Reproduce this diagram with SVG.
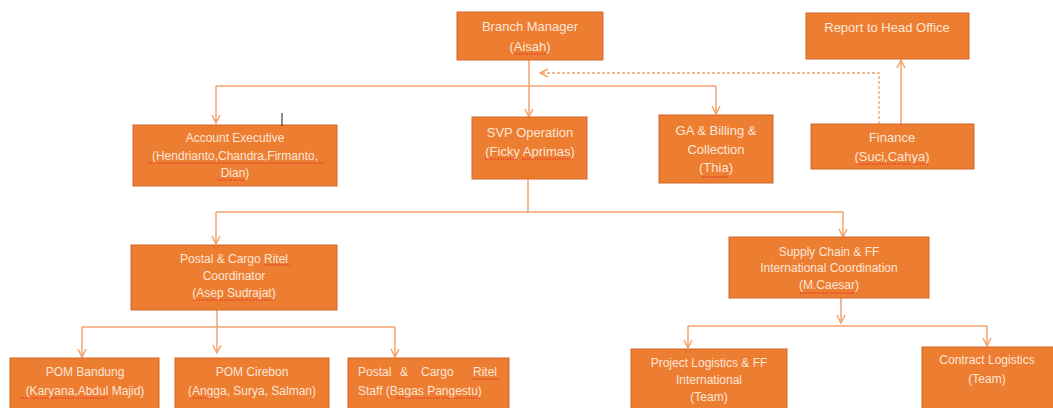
<svg xmlns="http://www.w3.org/2000/svg" width="1053" height="408" viewBox="0 0 1053 408">
<defs>
<marker id="arr" viewBox="0 0 10 10" refX="9" refY="5" markerWidth="10" markerHeight="10" markerUnits="userSpaceOnUse" orient="auto">
<path d="M1,1 L9,5 L1,9" fill="none" stroke="#F2A36E" stroke-width="1.5"/>
</marker>
</defs>
<style>
.box{fill:#ED7D31;stroke:#D0682A;stroke-width:1}
.t{font-family:"Liberation Sans",Arial,sans-serif;font-size:12px;fill:#FCE6D8;text-anchor:middle}
.tl{font-family:"Liberation Sans",Arial,sans-serif;font-size:12px;fill:#FCE6D8}
.big{font-size:13px}
.c{fill:none;stroke:#F2A36E;stroke-width:1.5}
.d{fill:none;stroke:#F2A36E;stroke-width:1.3;stroke-dasharray:3 2}
.sq{fill:none;stroke:#E2302E;stroke-width:1;stroke-dasharray:1.5 1}
</style>
<rect width="1053" height="408" fill="#FFFFFF"/>
<g id="connectors">
<path class="c" d="M529,60 V117" marker-end="url(#arr)"/>
<path class="c" d="M216,86 H716"/>
<path class="c" d="M216,86 V123" marker-end="url(#arr)"/>
<path class="c" d="M716,86 V114" marker-end="url(#arr)"/>
<path class="c" d="M901,124 V60" marker-end="url(#arr)"/>
<path class="d" d="M879,124 V73 H540" marker-end="url(#arr)"/>
<path class="c" d="M528,179 V212 H843"/>
<path class="c" d="M216,212 H528"/>
<path class="c" d="M216,212 V244" marker-end="url(#arr)"/>
<path class="c" d="M843,212 V237" marker-end="url(#arr)"/>
<path class="c" d="M217,310 V353" marker-end="url(#arr)"/>
<path class="c" d="M82,327 H395"/>
<path class="c" d="M82,327 V357" marker-end="url(#arr)"/>
<path class="c" d="M395,327 V357" marker-end="url(#arr)"/>
<path class="c" d="M841,298 V323" marker-end="url(#arr)"/>
<path class="c" d="M688,326 H987"/>
<path class="c" d="M688,326 V348" marker-end="url(#arr)"/>
<path class="c" d="M987,326 V346" marker-end="url(#arr)"/>
</g>
<g id="branch-manager">
<rect class="box" x="457" y="12" width="146" height="48"/>
<text class="t big" x="530" y="31">Branch Manager</text>
<text class="t big" x="530" y="51">(Aisah)</text>
<path class="sq" d="M514,54 H547"/>
</g>
<g id="report-head-office">
<rect class="box" x="806" y="13" width="163" height="46"/>
<text class="t big" x="887" y="32">Report to Head Office</text>
</g>
<g id="finance">
<rect class="box" x="811" y="124" width="163" height="45"/>
<text class="t big" x="892" y="142">Finance</text>
<text class="t big" x="892" y="161">(Suci,Cahya)</text>
<path class="sq" d="M857,164 H928"/>
</g>
<g id="account-executive">
<rect class="box" x="133" y="125" width="204" height="61"/>
<text class="t" x="235" y="142">Account Executive</text>
<text class="t" x="235" y="160">(Hendrianto,Chandra,Firmanto,</text>
<text class="t" x="235" y="177">Dian)</text>
<path class="sq" d="M148,163 H324 M218,180 H245"/>
</g>
<g id="svp-operation">
<rect class="box" x="472" y="117" width="115" height="62"/>
<text class="t big" x="530" y="137">SVP Operation</text>
<text class="t big" x="530" y="156">(Ficky Aprimas)</text>
<path class="sq" d="M485,159 H517 M522,159 H573"/>
</g>
<g id="ga-billing">
<rect class="box" x="659" y="115" width="114" height="68"/>
<text class="t big" x="716" y="135">GA &amp; Billing &amp;</text>
<text class="t big" x="716" y="154">Collection</text>
<text class="t big" x="716" y="172">(Thia)</text>
<path class="sq" d="M702,177 H729"/>
</g>
<g id="postal-coordinator">
<rect class="box" x="131" y="245" width="206" height="65"/>
<text class="t" x="234" y="263">Postal &amp; Cargo Ritel</text>
<text class="t" x="234" y="280">Coordinator</text>
<text class="t" x="234" y="297">(Asep Sudrajat)</text>
<path class="sq" d="M264,265 H290 M194,300 H275"/>
</g>
<g id="supply-chain">
<rect class="box" x="729" y="237" width="200" height="61"/>
<text class="t" x="829" y="256">Supply Chain &amp; FF</text>
<text class="t" x="829" y="272">International Coordination</text>
<text class="t" x="829" y="289">(M.Caesar)</text>
<path class="sq" d="M800,293 H854"/>
</g>
<g id="pom-bandung">
<rect class="box" x="10" y="358" width="149" height="60"/>
<text class="t" x="85" y="376">POM Bandung</text>
<text class="t" x="85" y="395">(Karyana,Abdul Majid)</text>
<path class="sq" d="M20,398 H107"/>
</g>
<g id="pom-cirebon">
<rect class="box" x="175" y="358" width="154" height="60"/>
<text class="t" x="252" y="376">POM Cirebon</text>
<text class="t" x="252" y="395">(Angga, Surya, Salman)</text>
<path class="sq" d="M190,398 H213"/>
</g>
<g id="postal-staff">
<rect class="box" x="348" y="358" width="161" height="60"/>
<text class="tl" y="376"><tspan x="358">Postal</tspan><tspan x="400">&amp;</tspan><tspan x="421">Cargo</tspan><tspan x="473">Ritel</tspan></text>
<text class="tl" x="358" y="395">Staff (Bagas Pangestu)</text>
<path class="sq" d="M473,379 H499 M396,398 H480"/>
</g>
<g id="project-logistics">
<rect class="box" x="631" y="349" width="156" height="69"/>
<text class="t" x="709" y="367">Project Logistics &amp; FF</text>
<text class="t" x="709" y="384">International</text>
<text class="t" x="709" y="401">(Team)</text>
</g>
<g id="contract-logistics">
<rect class="box" x="922" y="347" width="140" height="71"/>
<text class="t" x="987" y="364">Contract Logistics</text>
<text class="t" x="987" y="383">(Team)</text>
</g>
<path d="M282,113 V126" stroke="#444444" stroke-width="1.2"/>
</svg>
